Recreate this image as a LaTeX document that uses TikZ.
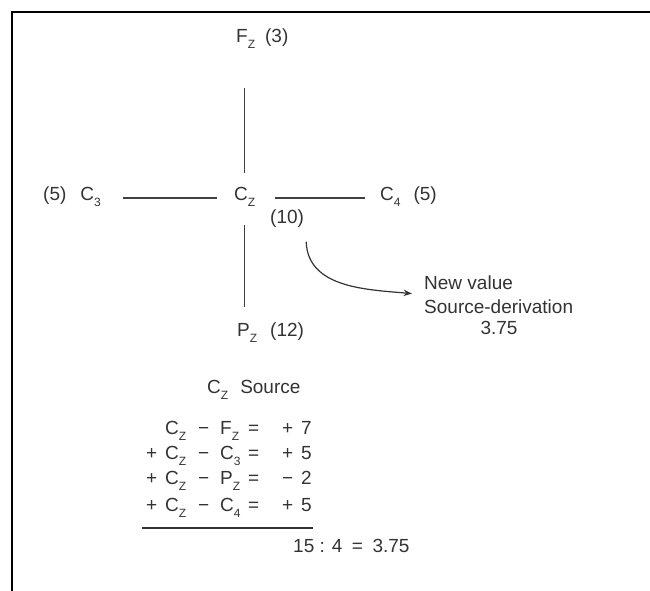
\documentclass[tikz,border=0pt]{standalone}
\usepackage{fontspec}
\setmainfont{Liberation Sans}
\usetikzlibrary{arrows.meta}
\newcommand{\lowidx}[1]{\raisebox{-5.5pt}{\fontsize{12}{12}\selectfont #1}}
\tikzset{
    >=Stealth,
    % Text
    lbl/.style={inner sep=0pt, anchor=base west, text=black!80,
                font=\fontsize{19}{22}\selectfont},
    % Lines
    bond/.style={draw=black!75, line width=1.2pt},
    flow/.style={->, draw=black!80, line width=1.2pt},
    sumrule/.style={draw=black!80, line width=1.6pt},
    frame/.style={draw=black, line width=2.3pt}
}

\begin{document}
\begin{tikzpicture}[x=1pt, y=-1pt]
\useasboundingbox (0,0) rectangle (650,590);
\draw[frame] (12,592) -- (12,12) -- (652,12);

% centre cell and its neighbours
\node[lbl] (cz) at (234,200.6) {C\lowidx{Z}};
\node[lbl] (fz) at (236,42.6) {F\lowidx{Z}\hspace{10pt}(3)};
\node[lbl] (c3) at (43,200.6) {(5)\hspace{14pt}C\lowidx{3}};
\node[lbl] (c4) at (380,200.6) {C\lowidx{4}\hspace{13pt}(5)};
\node[lbl] (pz) at (237,336.6) {P\lowidx{Z}\hspace{13pt}(12)};
\node[lbl] (czval) at (270,223.6) {(10)};

\draw[bond, shorten <=22pt, shorten >=17pt] (c3.mid east) -- (cz.mid west);
\draw[bond, shorten <=20pt, shorten >=15pt] (cz.mid east) -- (c4.mid west);
\draw[bond, shorten <=14pt, shorten >=40pt] (cz.north) -- (cz.north |- fz.south);
\draw[bond, shorten <=19pt, shorten >=16pt] (cz.south) -- (cz.south |- pz.north);

% new value
\node[lbl] (nvA) at (424,289.6) {New value};
\node[lbl] (nvB) at (424,313.6) {Source-derivation};
\node[lbl, anchor=base] (nvC) at (499,334.6) {3.75};
\draw[flow] ([xshift=2pt,yshift=-14pt]czval.south east)
    to[out=-88, in=175] ([xshift=-12pt,yshift=-4pt]nvA.base west);

% source sum
\node[lbl] (srctitle) at (207,393.6) {C\lowidx{Z}\hspace{12pt}Source};
\foreach \i/\yy/\pre/\rhs/\sgn/\val in {1/434.6//F\lowidx{Z}/+/7,
        2/459.6/+/C\lowidx{3}/+/5, 3/484.6/+/P\lowidx{Z}/−/2,
        4/511.6/+/C\lowidx{4}/+/5} {
    \node[lbl] (pre\i) at (146,\yy) {\pre};
    \node[lbl] (lhs\i) at (165,\yy) {C\lowidx{Z}};
    \node[lbl] (mn\i) at (198,\yy) {−};
    \node[lbl] (rhs\i) at (220,\yy) {\rhs};
    \node[lbl] (eq\i) at (248,\yy) {=};
    \node[lbl] (sg\i) at (282,\yy) {\sgn};
    \node[lbl] (val\i) at (301,\yy) {\val};
}
\draw[sumrule] (142,528) -- (313,528);
\node[lbl] (result) at (293,552) {15 : 4\enspace=\enspace3.75};

\end{tikzpicture}
\end{document}
